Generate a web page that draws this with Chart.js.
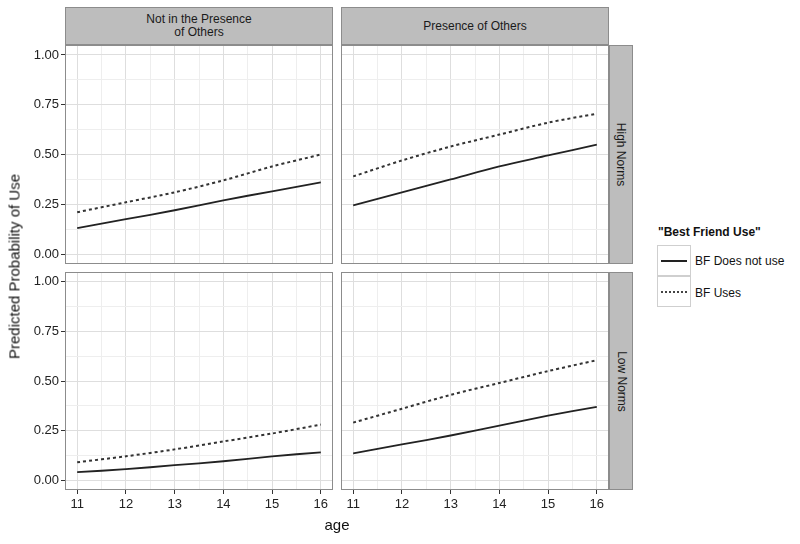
<!DOCTYPE html>
<html>
<head>
<meta charset="utf-8">
<script src="https://cdn.jsdelivr.net/npm/chart.js@4.4.1/dist/chart.umd.min.js"></script>
<style>
  body { margin: 0; background: #fff; font-family: "Liberation Sans", Arial, sans-serif; }
  #wrap { position: relative; width: 800px; height: 544px; overflow: hidden; }
  canvas { position: absolute; }
  .strip { position: absolute; background: #bdbdbd; border: 1px solid #8c8c8c; box-sizing: border-box;
           color: #1a1a1a; font-size: 12px; display: flex; align-items: center; justify-content: center;
           text-align: center; line-height: 13px; }
  .vtext { transform: rotate(90deg); white-space: nowrap; }
  .lbl { position: absolute; color: #111; white-space: nowrap; }
  .key { position: absolute; left: 657px; width: 34px; height: 31px; border: 1px solid #cfcfcf; box-sizing: border-box; }
  .key div { position: absolute; left: 3px; right: 3px; top: 14px; }
</style>
</head>
<body>
<div id="wrap">
  <canvas id="pTL" width="313" height="219" style="left:20px;top:45px"></canvas>
  <canvas id="pTR" width="268" height="219" style="left:341px;top:45px"></canvas>
  <canvas id="pBL" width="313" height="250" style="left:20px;top:272px"></canvas>
  <canvas id="pBR" width="268" height="250" style="left:341px;top:272px"></canvas>

  <div class="strip" id="stripC0" style="left:65px;top:7px;width:268px;height:38px"></div>
  <div class="strip" id="stripC1" style="left:341px;top:7px;width:268px;height:38px"></div>
  <div class="strip" id="stripR0" style="left:609px;top:45px;width:24px;height:219px"></div>
  <div class="strip" id="stripR1" style="left:609px;top:272px;width:24px;height:218px"></div>

  <div class="lbl" style="left:-86px;top:258px;width:200px;text-align:center;font-size:15px;transform:rotate(-90deg)">Predicted Probability of Use</div>
  <div class="lbl" style="left:317px;top:516px;width:40px;text-align:center;font-size:15px">age</div>

  <div class="lbl" id="legTitle" style="left:658px;top:225px;font-size:12px;font-weight:bold"></div>
  <div class="key" style="top:245px"><div style="border-top:2px solid #222"></div></div>
  <div class="key" style="top:276px"><div style="border-top:2px dotted #444"></div></div>
  <div class="lbl" id="leg0" style="left:695px;top:254px;font-size:12px"></div>
  <div class="lbl" id="leg1" style="left:695px;top:286px;font-size:12px"></div>
</div>
<script>
// facets and series
const colFacets = ["Not in the Presence\nof Others", "Presence of Others"];
const rowFacets = ["High Norms", "Low Norms"];
const legendTitle = '"Best Friend Use"';
const seriesNames = ["BF Does not use", "BF Uses"];

const ages = [11, 12, 13, 14, 15, 16];
const xTicks = [11, 12, 13, 14, 15, 16];
const xMinor = [11.5, 12.5, 13.5, 14.5, 15.5];
const yTicks = [0, 0.25, 0.5, 0.75, 1];
const yMinor = [0.125, 0.375, 0.625, 0.875];

// predicted probabilities
const highNotPresentNoUse = [0.13, 0.175, 0.22, 0.27, 0.315, 0.36];
const highNotPresentUses  = [0.21, 0.26, 0.31, 0.37, 0.44, 0.50];
const highPresentNoUse    = [0.245, 0.31, 0.375, 0.44, 0.495, 0.55];
const highPresentUses     = [0.39, 0.47, 0.54, 0.60, 0.66, 0.705];
const lowNotPresentNoUse  = [0.04, 0.055, 0.075, 0.095, 0.12, 0.14];
const lowNotPresentUses   = [0.09, 0.12, 0.155, 0.195, 0.235, 0.28];
const lowPresentNoUse     = [0.135, 0.18, 0.225, 0.275, 0.325, 0.37];
const lowPresentUses      = [0.29, 0.36, 0.43, 0.49, 0.55, 0.605];

document.getElementById("stripC0").innerText = colFacets[0];
document.getElementById("stripC1").innerText = colFacets[1];
document.getElementById("stripR0").innerHTML = '<span class="vtext">' + rowFacets[0] + '</span>';
document.getElementById("stripR1").innerHTML = '<span class="vtext">' + rowFacets[1] + '</span>';
document.getElementById("legTitle").innerText = legendTitle;
document.getElementById("leg0").innerText = seriesNames[0];
document.getElementById("leg1").innerText = seriesNames[1];

const panelBorder = {
    id: "panelBorder",
    afterDraw(chart) {
        const a = chart.chartArea, ctx = chart.ctx;
        ctx.save();
        ctx.strokeStyle = "#8c8c8c";
        ctx.lineWidth = 1;
        ctx.strokeRect(a.left + 0.5, a.top + 0.5, a.right - a.left - 1, a.bottom - a.top - 1);
        ctx.restore();
    }
};

function isMajor(list, v) {
    return list.some(t => Math.abs(t - v) < 1e-6);
}

// no label overhang padding, panels must line up exactly
function noPad(s) {
    s.paddingTop = 0; s.paddingBottom = 0; s.paddingLeft = 0; s.paddingRight = 0;
}

function panel(id, solid, dashed, showX, showY) {
    const toPts = arr => arr.map((v, i) => ({ x: ages[i], y: v }));
    new Chart(document.getElementById(id), {
        type: "line",
        data: {
            datasets: [
                { label: seriesNames[0], data: toPts(solid), borderColor: "#222", borderWidth: 1.8, pointRadius: 0, tension: 0.3 },
                { label: seriesNames[1], data: toPts(dashed), borderColor: "#333", borderWidth: 2, borderDash: [3, 3], pointRadius: 0, tension: 0.3 }
            ]
        },
        options: {
            responsive: false,
            animation: false,
            layout: { padding: 0 },
            plugins: { legend: { display: false }, tooltip: { enabled: false } },
            scales: {
                x: {
                    type: "linear", min: 10.75, max: 16.25,
                    afterBuildTicks: s => { s.ticks = xTicks.concat(xMinor).map(v => ({ value: v })); },
                    afterFit: s => { s.height = showX ? 32 : 0; noPad(s); },
                    border: { display: false },
                    grid: {
                        color: c => isMajor(xTicks, c.tick.value) ? "#dedede" : "#eeeeee",
                        borderDash: [2, 2],
                        drawTicks: showX,
                        tickLength: 4,
                        tickBorderDash: [],
                        tickColor: c => isMajor(xTicks, c.tick.value) ? "#333" : "rgba(0,0,0,0)"
                    },
                    ticks: {
                        display: showX, padding: 3, color: "#222", autoSkip: false, maxRotation: 0,
                        font: { family: "Liberation Sans", size: 13 },
                        callback: v => isMajor(xTicks, v) ? String(v) : ""
                    }
                },
                y: {
                    min: -0.05, max: 1.05,
                    afterBuildTicks: s => { s.ticks = yTicks.concat(yMinor).map(v => ({ value: v })); },
                    afterFit: s => { s.width = showY ? 45 : 0; noPad(s); },
                    border: { display: false },
                    grid: {
                        color: c => isMajor(yTicks, c.tick.value) ? "#dedede" : "#eeeeee",
                        borderDash: [2, 2],
                        drawTicks: showY,
                        tickLength: 4,
                        tickBorderDash: [],
                        tickColor: c => isMajor(yTicks, c.tick.value) ? "#333" : "rgba(0,0,0,0)"
                    },
                    ticks: {
                        display: showY, padding: 2, color: "#222", autoSkip: false,
                        font: { family: "Liberation Sans", size: 13 },
                        callback: v => isMajor(yTicks, v) ? v.toFixed(2) : ""
                    }
                }
            }
        },
        plugins: [panelBorder]
    });
}

panel("pTL", highNotPresentNoUse, highNotPresentUses, false, true);
panel("pTR", highPresentNoUse, highPresentUses, false, false);
panel("pBL", lowNotPresentNoUse, lowNotPresentUses, true, true);
panel("pBR", lowPresentNoUse, lowPresentUses, true, false);
</script>
</body>
</html>
